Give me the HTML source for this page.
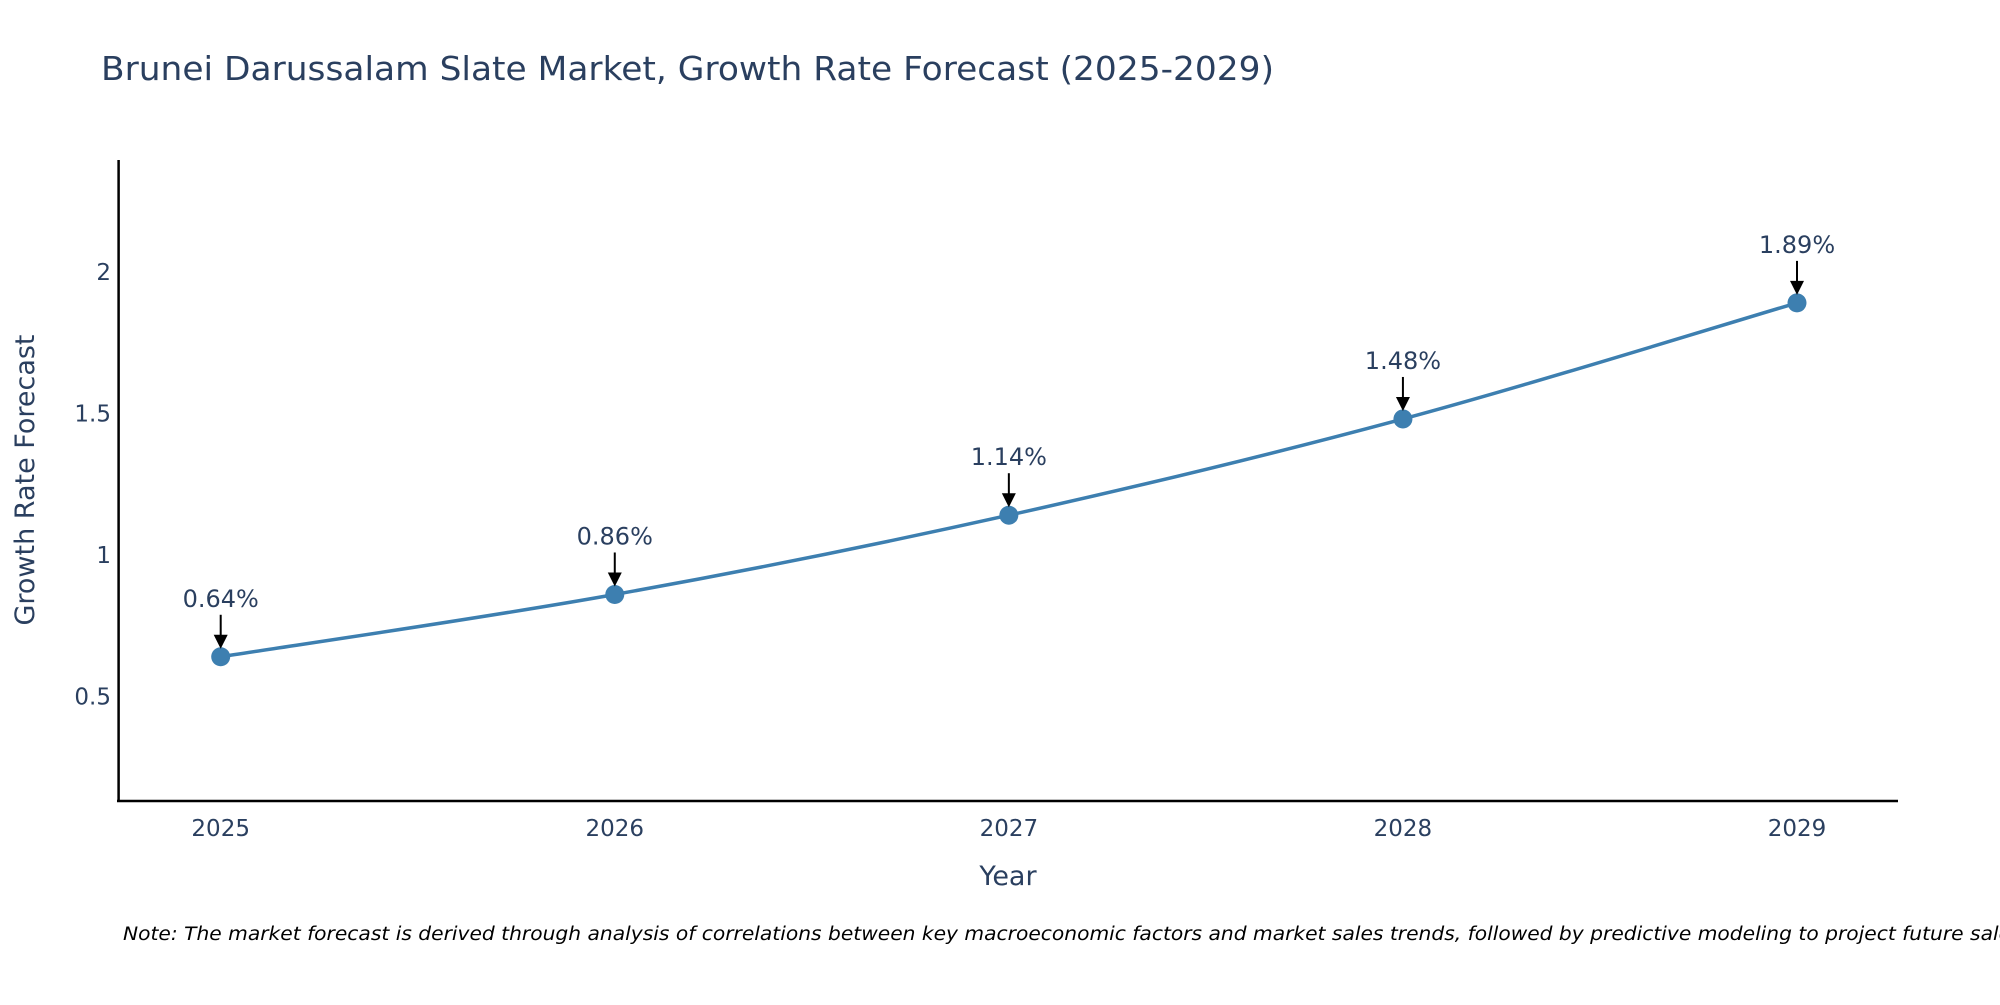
<!DOCTYPE html>
<html><head><meta charset="utf-8"><style>
body{margin:0;background:#fff;}
svg text{font-family:"DejaVu Sans","Liberation Sans",sans-serif;}
</style></head><body>
<svg width="2000" height="1000" viewBox="0 0 2000 1000">
<text x="101" y="80" font-size="33" fill="#2a3f5f" textLength="1173" lengthAdjust="spacingAndGlyphs">Brunei Darussalam Slate Market, Growth Rate Forecast (2025-2029)</text>
<g id="plot"></g>
<line x1="118.6" y1="160" x2="118.6" y2="802" stroke="#000" stroke-width="2.5"/>
<line x1="117" y1="801" x2="1898" y2="801" stroke="#000" stroke-width="2.5"/>
<text x="1008" y="885" font-size="27" fill="#2a3f5f" text-anchor="middle">Year</text>
<text transform="translate(34,480) rotate(-90)" font-size="27" fill="#2a3f5f" text-anchor="middle">Growth Rate Forecast</text>
<text x="123" y="940" font-size="18.5" font-style="italic" fill="#000" textLength="1905" lengthAdjust="spacingAndGlyphs">Note: The market forecast is derived through analysis of correlations between key macroeconomic factors and market sales trends, followed by predictive modeling to project future sales.</text>
</svg>
<script>
const years=["2025","2026","2027","2028","2029"];
const values=[0.64,0.86,1.14,1.48,1.89];
const yTicks=[0.5,1,1.5,2];
const yTickLabels=["0.5","1","1.5","2"];
const NS="http://www.w3.org/2000/svg";
const g=document.getElementById("plot");
function xs(i){return 220.7+i*(1797-220.7)/(years.length-1);}
function ys(v){return 696.4-(v-0.5)*283.1;}
function mk(t,a){const e=document.createElementNS(NS,t);for(const k in a)e.setAttribute(k,a[k]);g.appendChild(e);return e;}
yTicks.forEach((v,i)=>{const t=mk("text",{x:111,y:ys(v)+8,"font-size":23,fill:"#2a3f5f","text-anchor":"end"});t.textContent=yTickLabels[i];

});
years.forEach((y,i)=>{const t=mk("text",{x:xs(i),y:836,"font-size":23,fill:"#2a3f5f","text-anchor":"middle"});t.textContent=y;

});
const pts=values.map((v,i)=>[xs(i),ys(v)]);
let d="M"+pts[0][0]+","+pts[0][1];
for(let i=0;i<pts.length-1;i++){const p0=pts[Math.max(0,i-1)],p1=pts[i],p2=pts[i+1],p3=pts[Math.min(pts.length-1,i+2)];
const c1=[p1[0]+(p2[0]-p0[0])/6,p1[1]+(p2[1]-p0[1])/6],c2=[p2[0]-(p3[0]-p1[0])/6,p2[1]-(p3[1]-p1[1])/6];
d+=` C${c1[0]},${c1[1]} ${c2[0]},${c2[1]} ${p2[0]},${p2[1]}`;}
const line=mk("path",{d:d,fill:"none",stroke:"#3d7fb0","stroke-width":3.5});


pts.forEach((p,i)=>{
const c=mk("circle",{cx:p[0],cy:p[1],r:9.5,fill:"#3d7fb0"});


const a=mk("line",{x1:p[0],y1:p[1]-42,x2:p[0],y2:p[1]-20,stroke:"#000","stroke-width":2});


const h=mk("polygon",{points:`${p[0]-7},${p[1]-22} ${p[0]+7},${p[1]-22} ${p[0]},${p[1]-8}`,fill:"#000"});


const t=mk("text",{x:p[0],y:p[1]-50,"font-size":24,fill:"#2a3f5f","text-anchor":"middle"});
t.textContent=values[i].toFixed(2)+"%";


});
</script>
</body></html>
